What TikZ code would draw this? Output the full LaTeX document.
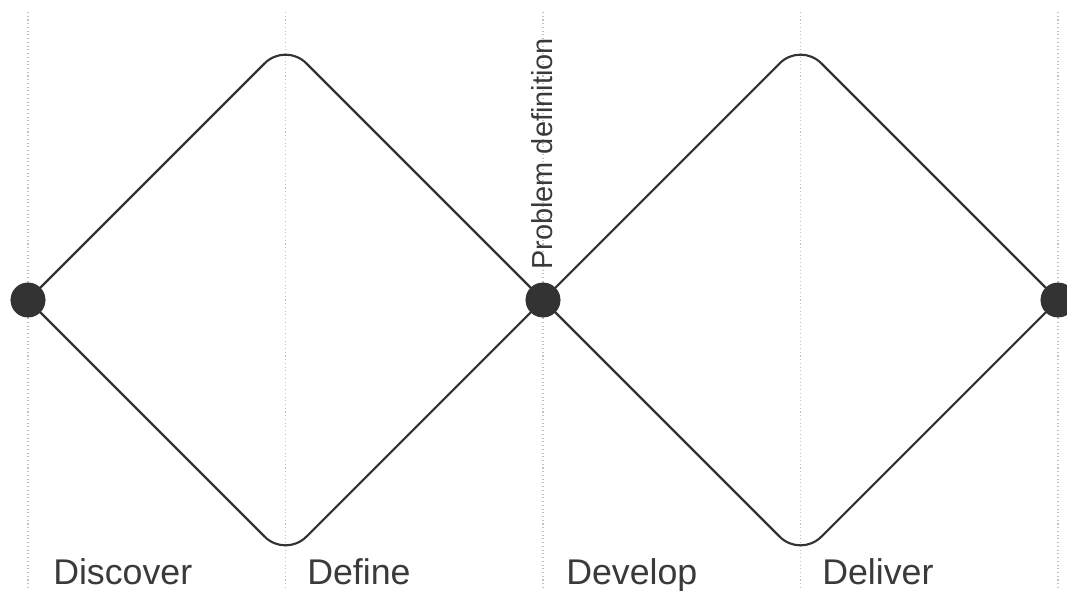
\documentclass[tikz,border=0pt]{standalone}
\usepackage{fontspec}
\setmainfont{Liberation Sans}
\definecolor{ink}{HTML}{333333}
\definecolor{txt}{HTML}{3A3A3A}
\definecolor{guide}{HTML}{C0C0C0}
\tikzset{
  dot/.style={circle, fill=ink, draw=none, minimum size=26pt, inner sep=0pt},
  loop/.style={draw=ink, line width=1.6pt, rounded corners=22pt},
  guideline/.style={draw=guide, line width=0.8pt, dotted},
  phase/.style={anchor=base west, inner sep=0pt, text=txt, font=\fontsize{26.8}{30}\selectfont},
  vlabel/.style={anchor=base west, inner sep=0pt, rotate=90, text=txt, font=\fontsize{21.7}{24}\selectfont}
}
\begin{document}
\begin{tikzpicture}[x=0.75pt,y=-0.75pt]
\useasboundingbox (0,0) rectangle (1067,590);
% guide lines
\foreach \gx/\gn in {28/g1,285.5/g2,543/g3,800.5/g4,1058/g5}{
  \coordinate (\gn top) at (\gx,12);
  \coordinate (\gn bot) at (\gx,590);
  \draw[guideline] (\gn top) -- (\gn bot);
}
% corner coordinates
\coordinate (t1) at (285.5,42.5);
\coordinate (b1) at (285.5,557.5);
\coordinate (t2) at (800.5,42.5);
\coordinate (b2) at (800.5,557.5);
% dots (positions)
\node[dot] (d1) at (28,300) {};
\node[dot] (d2) at (543,300) {};
\node[dot] (d3) at (1058,300) {};
% diamonds
\draw[loop] (d1.center) -- (t1) -- (d2.center);
\draw[loop] (d1.center) -- (b1) -- (d2.center);
\draw[loop] (d2.center) -- (t2) -- (d3.center);
\draw[loop] (d2.center) -- (b2) -- (d3.center);
% redraw dots on top
\node[dot] at (d1) {};
\node[dot] at (d2) {};
\node[dot] at (d3) {};
% labels
\node[phase] (l1) at (53,584) {Discover};
\node[phase] (l2) at (307,584) {Define};
\node[phase] (l3) at (566,584) {Develop};
\node[phase] (l4) at (822,584) {Deliver};
\node[vlabel] (pd) at (552,270) {Problem definition};
\end{tikzpicture}
\end{document}
